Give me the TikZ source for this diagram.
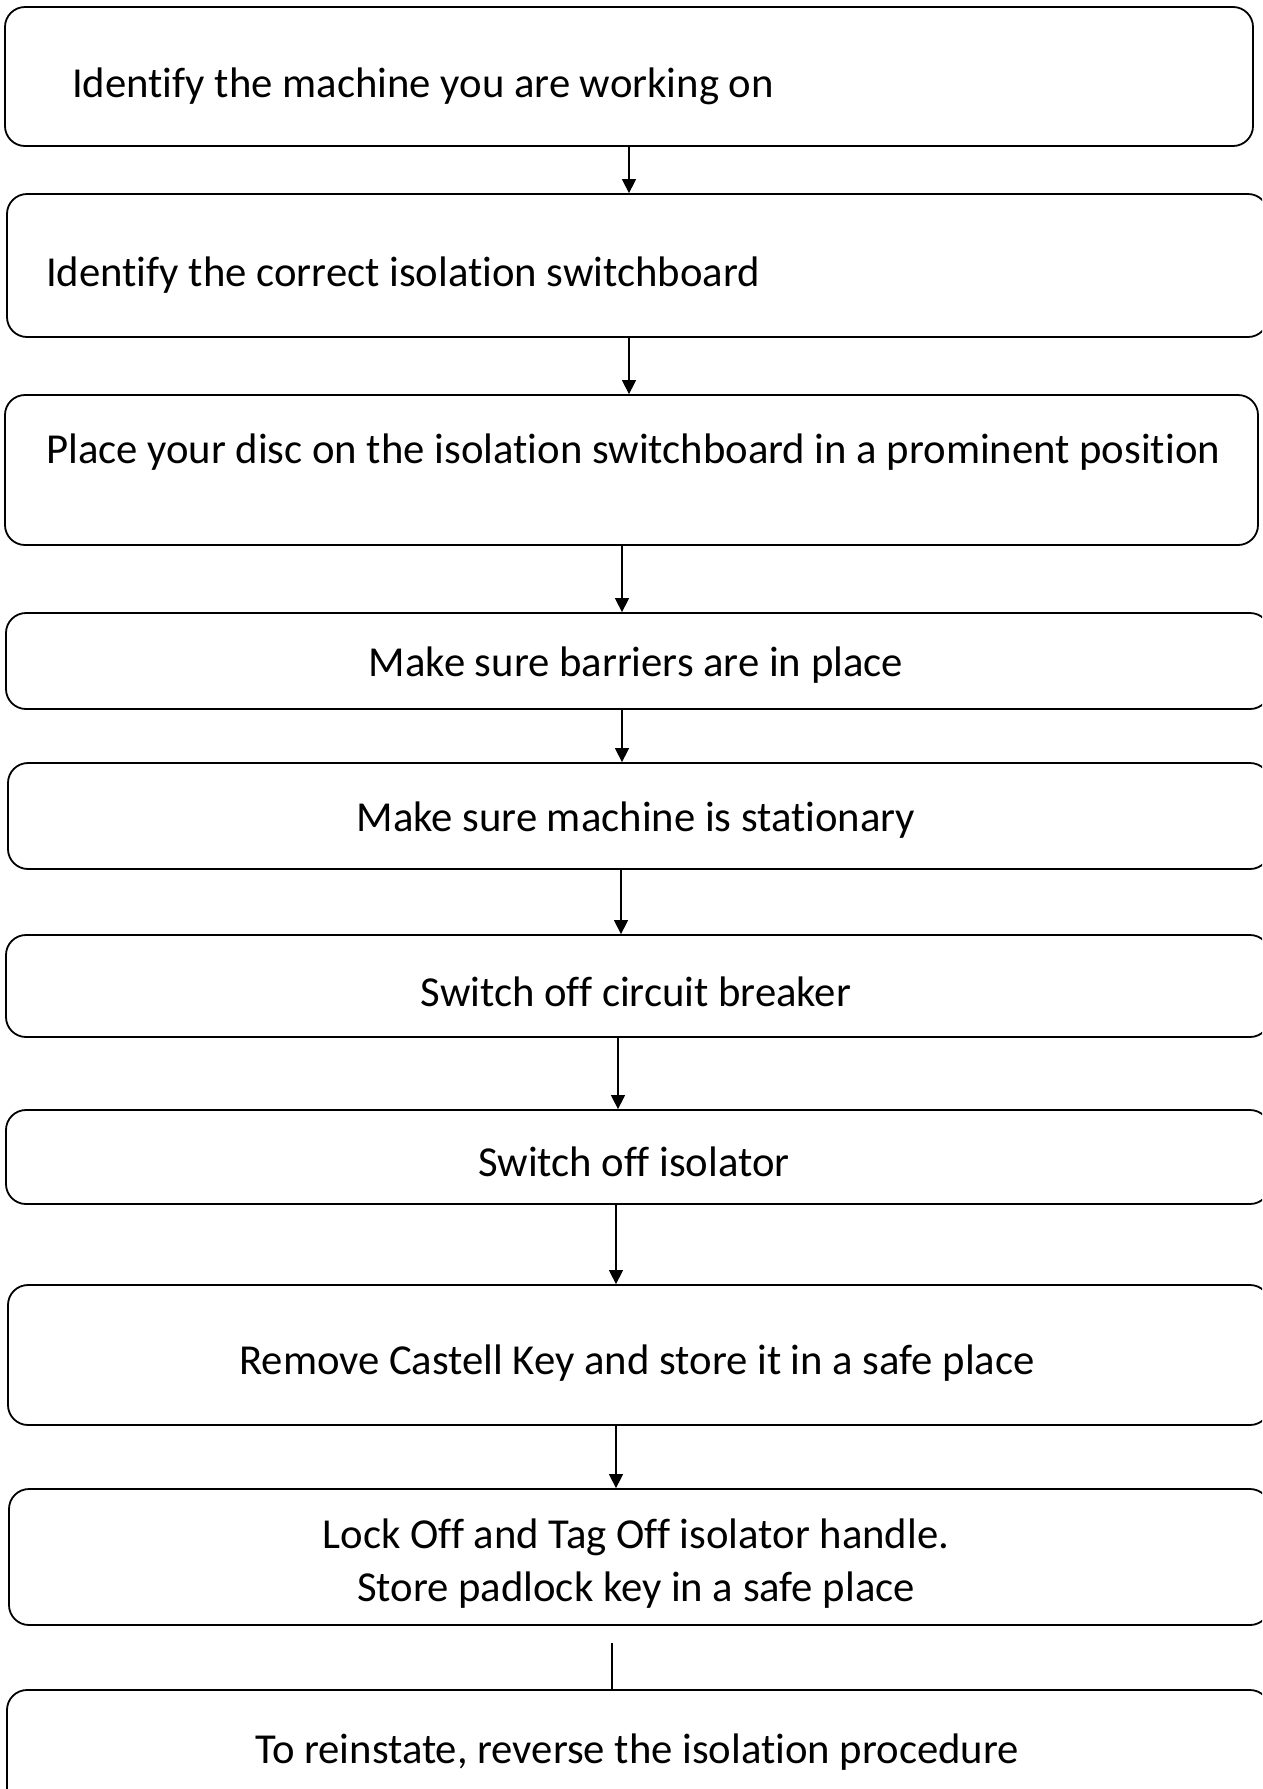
\documentclass[tikz,border=0pt]{standalone}
\usepackage{fontspec}
\setmainfont[RawFeature={-liga;-clig}]{Carlito}
\usetikzlibrary{arrows.meta}
\tikzset{
  box/.style={draw=black, line width=1.8pt, rounded corners=20pt, rectangle, inner sep=0pt, fill=none},
  txt/.style={inner sep=0pt, font=\fontsize{42.7pt}{53pt}\selectfont},
  arr/.style={line width=1.4pt, -{Triangle[width=14pt,length=14pt]}},
  plain/.style={line width=1.1pt}
}
\newcommand\mybox[5]{\node[box, minimum width={(#4-#2)*1pt}, minimum height={(#5-#3)*1pt}] (#1) at ({(#2+#4)/2},{(#3+#5)/2}) {};}
\begin{document}
\begin{tikzpicture}[x=1pt,y=-1pt]
\useasboundingbox (0,0) rectangle (1262,1789);
\clip (0,0) rectangle (1262,1789);
\fill[white] (0,0) rectangle (1262,1789);
\mybox{b1}{5}{7}{1253}{146}
\mybox{b2}{7}{194}{1268}{337}
\mybox{b3}{5}{395}{1258}{545}
\mybox{b4}{6}{613}{1270}{709}
\mybox{b5}{8}{763}{1270}{869}
\mybox{b6}{6}{935}{1270}{1037}
\mybox{b7}{6}{1110}{1270}{1204}
\mybox{b8}{8}{1285}{1270}{1425}
\mybox{b9}{9}{1489}{1270}{1625}
\mybox{b10}{7}{1690}{1270}{1830}

\node[txt, anchor=base west] (t1) at (72,97) {Identify the machine you are working on};
\node[txt, anchor=base west] (t2) at (46,286) {Identify the correct isolation switchboard};
\node[txt, anchor=base west] (t3) at (46,463) {Place your disc on the isolation switchboard in a prominent position};
\node[txt, anchor=base] (t4) at (636,676) {Make sure barriers are in place};
\node[txt, anchor=base] (t5) at (636,831) {Make sure machine is stationary};
\node[txt, anchor=base] (t6) at (636,1006) {Switch off circuit breaker};
\node[txt, anchor=base] (t7) at (634,1176) {Switch off isolator};
\node[txt, anchor=base] (t8) at (637,1374) {Remove Castell Key and store it in a safe place};
\node[txt, align=center, anchor=center] (t9) at (636,1564) {Lock Off and Tag Off isolator handle.\\Store padlock key in a safe place};
\node[txt, anchor=base] (t10) at (637,1763) {To reinstate, reverse the isolation procedure};

\coordinate (x1) at (629,0);
\coordinate (x2) at (629,0);
\coordinate (x3) at (622,0);
\coordinate (x4) at (622,0);
\coordinate (x5) at (621,0);
\coordinate (x6) at (618,0);
\coordinate (x7) at (616,0);
\coordinate (x8) at (616,0);
\coordinate (l9) at (612,1643);

\draw[arr] (x1 |- b1.south) -- (x1 |- b2.north);
\draw[arr] (x2 |- b2.south) -- (x2 |- b3.north);
\draw[arr] (x3 |- b3.south) -- (x3 |- b4.north);
\draw[arr] (x4 |- b4.south) -- (x4 |- b5.north);
\draw[arr] (x5 |- b5.south) -- (x5 |- b6.north);
\draw[arr] (x6 |- b6.south) -- (x6 |- b7.north);
\draw[arr] (x7 |- b7.south) -- (x7 |- b8.north);
\draw[arr] (x8 |- b8.south) -- (x8 |- b9.north);
\draw[plain] (l9) -- (l9 |- b10.north);
\end{tikzpicture}
\end{document}
